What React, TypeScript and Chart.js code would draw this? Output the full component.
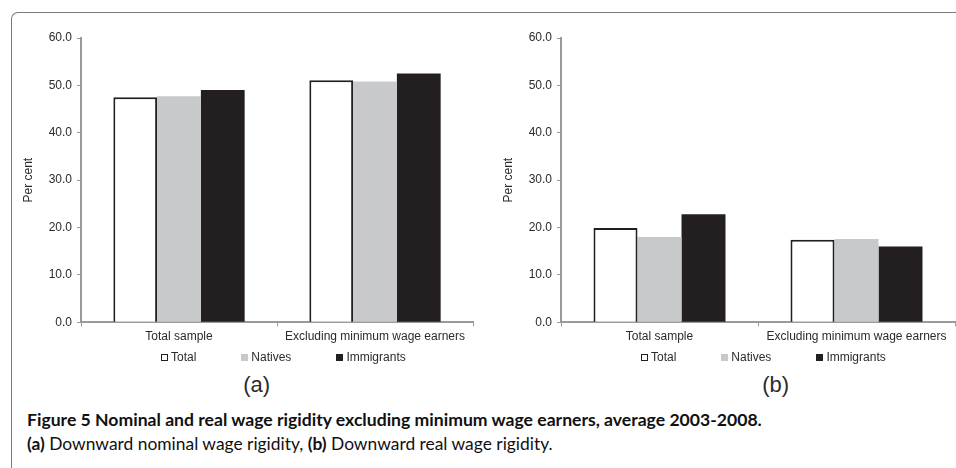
import React, { useEffect, useRef } from "react";
import { Chart, registerables } from "chart.js";

Chart.register(...registerables);

const categories = ["Total sample", "Excluding minimum wage earners"];
const seriesNames = ["Total", "Natives", "Immigrants"];
const seriesFill = ["#ffffff", "#c8c9cb", "#231f20"];

const nominalTotal = [47.5, 51.1];
const nominalNatives = [47.7, 50.8];
const nominalImmigrants = [49.0, 52.5];

const realTotal = [19.9, 17.4];
const realNatives = [18.0, 17.6];
const realImmigrants = [22.8, 16.0];

const yMin = 0;
const yMax = 60;
const yStep = 10;
const yTitle = "Per cent";

const panelLabels = ["(a)", "(b)"];
const captionTitle =
  "Figure 5 Nominal and real wage rigidity excluding minimum wage earners, average 2003-2008.";

const FONT = '"Liberation Sans", Arial, Helvetica, sans-serif';
const AXIS = "#9a9a9a";
const TEXT = "#2b2b2b";

function buildConfig(values: number[][], padRight: number): any {
  return {
    type: "bar",
    data: {
      labels: categories,
      datasets: seriesNames.map((name, i) => ({
        label: name,
        data: values[i],
        backgroundColor: seriesFill[i],
        borderColor: i === 0 ? "#231f20" : seriesFill[i],
        borderWidth: i === 0 ? 2 : 0,
        borderSkipped: "start",
        categoryPercentage: 0.67,
        barPercentage: 1.0,
      })),
    },
    options: {
      responsive: false,
      animation: false,
      layout: { padding: { top: 38, right: padRight, left: 0, bottom: 0 } },
      plugins: { legend: { display: false }, tooltip: { enabled: false }, title: { display: false } },
      scales: {
        x: {
          offset: true,
          grid: {
            display: true,
            offset: true,
            drawOnChartArea: false,
            drawTicks: true,
            tickLength: 4,
            color: AXIS,
            lineWidth: 1,
          },
          border: { display: true, color: AXIS, width: 2 },
          ticks: {
            color: TEXT,
            font: { family: FONT, size: 12 },
            padding: 3,
            maxRotation: 0,
            autoSkip: false,
          },
          afterFit: (s: any) => {
            s.height = 27.7;
          },
        },
        y: {
          min: yMin,
          max: yMax,
          ticks: {
            stepSize: yStep,
            color: TEXT,
            font: { family: FONT, size: 12 },
            padding: 5,
            callback: (v: any) => Number(v).toFixed(1),
          },
          grid: {
            display: true,
            drawOnChartArea: false,
            drawTicks: true,
            tickLength: 4,
            color: AXIS,
            lineWidth: 1,
          },
          border: { display: true, color: AXIS, width: 2 },
          title: {
            display: true,
            text: yTitle,
            color: TEXT,
            font: { family: FONT, size: 12 },
            padding: { top: 21, bottom: 0 },
          },
          afterFit: (s: any) => {
            s.width = 81;
          },
        },
      },
    },
  };
}

function BarPanel(props: { values: number[][]; left: number; width: number; padRight: number }) {
  const ref = useRef<HTMLCanvasElement | null>(null);
  useEffect(() => {
    if (!ref.current) return;
    const chart = new Chart(ref.current, buildConfig(props.values, props.padRight));
    return () => chart.destroy();
  }, []);
  return (
    <canvas
      ref={ref}
      width={props.width}
      height={350}
      style={{ position: "absolute", left: props.left, top: 0, width: props.width, height: 350 }}
    />
  );
}

function Legend(props: { left: number }) {
  return (
    <div
      style={{
        position: "absolute",
        left: props.left,
        top: 349,
        height: 16,
        display: "flex",
        alignItems: "center",
        gap: 45,
        fontFamily: FONT,
        fontSize: 12,
        lineHeight: "16px",
        color: TEXT,
        whiteSpace: "nowrap",
      }}
    >
      {seriesNames.map((name, i) => (
        <div key={name} style={{ display: "flex", alignItems: "center" }}>
          <span
            style={{
              display: "inline-block",
              boxSizing: "border-box",
              width: 7,
              height: 7,
              background: seriesFill[i],
              border: i === 0 ? "1.6px solid #231f20" : "none",
              marginRight: 3,
            }}
          />
          <span>{name}</span>
        </div>
      ))}
    </div>
  );
}

export default function App() {
  return (
    <div
      style={{
        position: "fixed",
        left: 0,
        top: 0,
        width: 956,
        height: 468,
        background: "#ffffff",
        overflow: "hidden",
      }}
    >
      <div
        style={{
          position: "absolute",
          left: 11,
          top: 12,
          width: 980,
          height: 500,
          borderLeft: "1.5px solid #7a7a7a",
          borderTop: "1.5px solid #7a7a7a",
          borderTopLeftRadius: 7,
          boxSizing: "border-box",
        }}
      />
      <BarPanel values={[nominalTotal, nominalNatives, nominalImmigrants]} left={0} width={480} padRight={7} />
      <BarPanel values={[realTotal, realNatives, realImmigrants]} left={480} width={476} padRight={1} />
      <Legend left={161} />
      <Legend left={641} />
      {[256.7, 775.7].map((x, i) => (
        <div
          key={i}
          style={{
            position: "absolute",
            left: x,
            top: 385,
            transform: "translate(-50%, -50%)",
            fontFamily: FONT,
            fontSize: 22,
            lineHeight: "26px",
            color: TEXT,
          }}
        >
          {panelLabels[i]}
        </div>
      ))}
      <div
        style={{
          position: "absolute",
          left: 27,
          top: 410,
          fontFamily: "Lato, sans-serif",
          fontWeight: 700,
          fontSize: 17.6,
          lineHeight: "20px",
          color: "#111",
          whiteSpace: "nowrap",
        }}
      >
        {captionTitle}
      </div>
      <div
        style={{
          position: "absolute",
          left: 27,
          top: 434,
          fontFamily: "Lato, sans-serif",
          fontSize: 17.4,
          lineHeight: "20px",
          color: "#111",
          whiteSpace: "nowrap",
        }}
      >
        <b>{panelLabels[0]}</b> Downward nominal wage rigidity, <b>{panelLabels[1]}</b> Downward real wage
        rigidity.
      </div>
    </div>
  );
}
